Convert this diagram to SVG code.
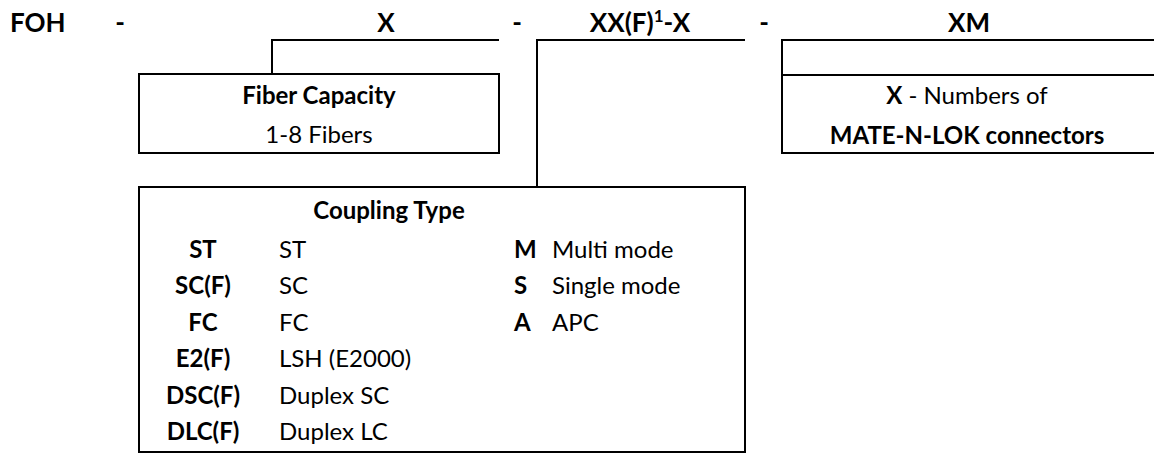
<svg xmlns="http://www.w3.org/2000/svg" width="1154" height="453" viewBox="0 0 1154 453">
<style>
text{font-family:Lato,"Liberation Sans",sans-serif;fill:#000}
.t{font-size:26px;font-weight:bold}
.b{font-size:24px;font-weight:bold}
.r{font-size:24px}
.c{text-anchor:middle}
.ln{fill:none;stroke:#000;stroke-width:2}
</style>
<rect width="1154" height="453" fill="#fff"/>
<g id="title">
<text class="t" x="10" y="32">FOH</text>
<text class="t c" x="120" y="32">-</text>
<text class="t c" x="386" y="32">X</text>
<text class="t c" x="517" y="32">-</text>
<text class="t c" x="640" y="32">XX(F)<tspan font-size="17" dy="-10">1</tspan><tspan dy="10">-X</tspan></text>
<text class="t c" x="764" y="32">-</text>
<text class="t c" x="969" y="32">XM</text>
</g>
<g id="connectors">
<polyline class="ln" points="272,74 272,40 499,40"/>
<polyline class="ln" points="537,187 537,40 745,40"/>
</g>
<g id="fiber-capacity">
<rect class="ln" x="139" y="74" width="360" height="79"/>
<text class="b c" x="319" y="104">Fiber Capacity</text>
<text class="r c" x="319" y="143">1-8 Fibers</text>
</g>
<g id="mate-n-lok">
<rect class="ln" x="782" y="40" width="380" height="113"/>
<line class="ln" x1="782" y1="75" x2="1162" y2="75"/>
<text class="r c" x="967" y="104"><tspan font-weight="bold">X</tspan> - Numbers of</text>
<text class="b c" x="967" y="144">MATE-N-LOK connectors</text>
</g>
<g id="coupling-type">
<rect class="ln" x="139" y="187" width="606" height="265"/>
<text class="b c" x="389" y="219">Coupling Type</text>
<text class="b c" x="203" y="258">ST</text>
<text class="b c" x="203" y="294">SC(F)</text>
<text class="b c" x="203" y="331">FC</text>
<text class="b c" x="203" y="367">E2(F)</text>
<text class="b c" x="203" y="404">DSC(F)</text>
<text class="b c" x="203" y="440">DLC(F)</text>
<text class="r" x="279" y="258">ST</text>
<text class="r" x="279" y="294">SC</text>
<text class="r" x="279" y="331">FC</text>
<text class="r" x="279" y="367">LSH (E2000)</text>
<text class="r" x="279" y="404">Duplex SC</text>
<text class="r" x="279" y="440">Duplex LC</text>
<text class="b" x="514" y="258">M</text>
<text class="b" x="514" y="294">S</text>
<text class="b" x="514" y="331">A</text>
<text class="r" x="552" y="258">Multi mode</text>
<text class="r" x="552" y="294">Single mode</text>
<text class="r" x="552" y="331">APC</text>
</g>
</svg>
